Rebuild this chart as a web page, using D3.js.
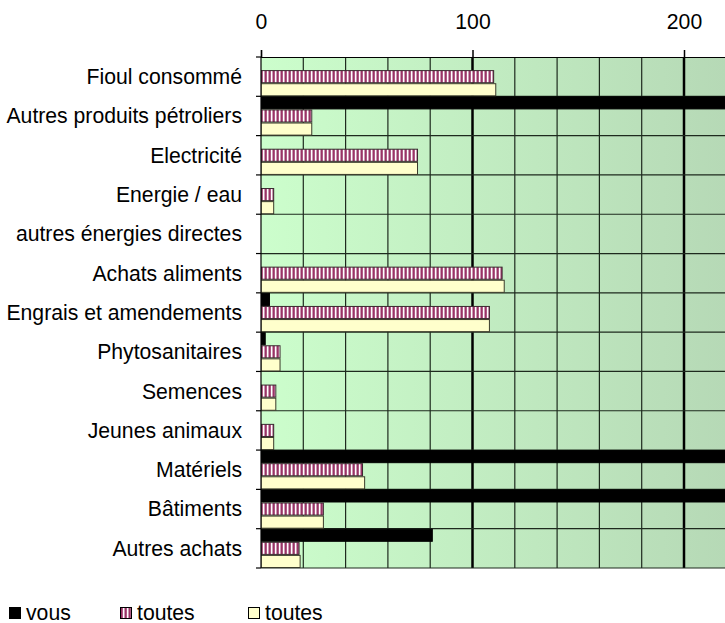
<!DOCTYPE html>
<html>
<head>
<meta charset="utf-8">
<script src="https://cdn.jsdelivr.net/npm/d3@7"></script>
<style>
  body { margin: 0; background: #fff; }
  svg text { font-family: Arial, "Liberation Sans", sans-serif; fill: #000; }
</style>
</head>
<body>
<svg id="chart" width="725" height="623"></svg>
<script>
// categories, top to bottom
const categories = [
    "Fioul consommé",
    "Autres produits pétroliers",
    "Electricité",
    "Energie / eau",
    "autres énergies directes",
    "Achats aliments",
    "Engrais et amendements",
    "Phytosanitaires",
    "Semences",
    "Jeunes animaux",
    "Matériels",
    "Bâtiments",
    "Autres achats"
];

// series values (vous goes beyond the visible range for some rows)
const vous = [0, 260, 0, 0, 0, 0, 4, 2, 0, 0, 260, 260, 81];
const toutesA = [110, 24, 74, 6, 0, 114, 108, 9, 7, 6, 48, 29.5, 18];
const toutesB = [111, 24, 74, 6, 0, 115, 108, 9, 7, 6, 49, 29.5, 18.5];

const seriesNames = ["vous", "toutes", "toutes"];
const xTicks = [0, 100, 200];

const width = 725;
const height = 623;
const margin = { top: 57, left: 261, bottom: 568 };
const fontSize = "21.2px";

const svg = d3.select("#chart");

const x = d3.scaleLinear().
domain([0, 220]).
range([margin.left, margin.left + 2.115 * 220]);

const y = d3.scaleBand().
domain(categories).
range([margin.top, margin.bottom]).
padding(0);

const ySub = d3.scaleBand().
domain([0, 1, 2]).
range([0, y.bandwidth()]).
padding(0);

const defs = svg.append("defs");

const grad = defs.append("linearGradient").
attr("id", "bg").
attr("gradientUnits", "userSpaceOnUse").
attr("x1", margin.left).
attr("x2", width).
attr("y1", 0).
attr("y2", 0);
grad.append("stop").attr("offset", 0).attr("stop-color", "#ccfecc");
grad.append("stop").attr("offset", 1).attr("stop-color", "#b6d9b6");

const hatch = defs.append("pattern").
attr("id", "hatch").
attr("patternUnits", "userSpaceOnUse").
attr("width", 4).
attr("height", 4);
hatch.append("rect").attr("width", 4).attr("height", 4).attr("fill", "#fff");
hatch.append("rect").attr("x", 0.5).attr("width", 2.3).attr("height", 4).attr("fill", "#993366");

defs.append("clipPath").
attr("id", "plotclip").
append("rect").
attr("x", margin.left).
attr("y", margin.top - 1).
attr("width", width - margin.left).
attr("height", margin.bottom - margin.top + 2);

// plot background
svg.append("rect").
attr("x", margin.left).
attr("y", margin.top).
attr("width", width - margin.left).
attr("height", margin.bottom - margin.top).
attr("fill", "url(#bg)");

const plot = svg.append("g").attr("clip-path", "url(#plotclip)");

// vertical grid
const gridVals = d3.range(20, 221, 20);
plot.append("g").
selectAll("line").
data(gridVals).
join("line").
attr("x1", d => x(d)).
attr("x2", d => x(d)).
attr("y1", margin.top).
attr("y2", margin.bottom).
attr("stroke", d => d % 100 === 0 ? "#000" : "#1e2a1e").
attr("stroke-width", d => d % 100 === 0 ? 2.5 : 1.2);

// horizontal grid at row boundaries
plot.append("g").
selectAll("line").
data(categories).
join("line").
attr("x1", margin.left).
attr("x2", width).
attr("y1", d => y(d) + y.bandwidth()).
attr("y2", d => y(d) + y.bandwidth()).
attr("stroke", "#1e2a1e").
attr("stroke-width", 1.2);

// bars
const series = [
    { values: vous, fill: "#000", stroke: "#000" },
    { values: toutesA, fill: "url(#hatch)", stroke: "#3a2a30" },
    { values: toutesB, fill: "#ffffcc", stroke: "#3a3a2a" }
];

series.forEach((s, si) => {
    plot.append("g").
    selectAll("rect").
    data(categories.map((c, i) => ({ cat: c, v: s.values[i] })).filter(d => d.v > 0)).
    join("rect").
    attr("x", x(0)).
    attr("y", d => y(d.cat) + ySub(si) + 0.5).
    attr("width", d => x(d.v) - x(0)).
    attr("height", ySub.bandwidth() - 1).
    attr("fill", s.fill).
    attr("stroke", s.stroke).
    attr("stroke-width", 1);
});

// top axis
const xAxis = svg.append("g").
attr("transform", `translate(0,${margin.top})`).
call(d3.axisTop(x).tickValues(xTicks).tickSize(7).tickPadding(0));
xAxis.select(".domain").attr("stroke", "#000").attr("stroke-width", 1.2);
xAxis.selectAll(".tick line").attr("stroke", "#000").attr("stroke-width", 1.5);
xAxis.selectAll("text").
attr("y", 29 - margin.top).
attr("dy", null).
style("font-size", fontSize).
style("font-family", "Arial, 'Liberation Sans', sans-serif").
attr("fill", "#000");

// left axis
svg.append("line").
attr("x1", margin.left).
attr("x2", margin.left).
attr("y1", margin.top).
attr("y2", margin.bottom).
attr("stroke", "#000").
attr("stroke-width", 1.2);

svg.append("g").
selectAll("line").
data([margin.top].concat(categories.map(c => y(c) + y.bandwidth()))).
join("line").
attr("x1", margin.left - 5).
attr("x2", margin.left).
attr("y1", d => d).
attr("y2", d => d).
attr("stroke", "#000").
attr("stroke-width", 1.2);

svg.append("g").
selectAll("text").
data(categories).
join("text").
attr("x", 242).
attr("y", d => y(d) + y.bandwidth() / 2).
attr("dy", "0.35em").
attr("text-anchor", "end").
style("font-size", fontSize).
text(d => d);

// legend
const legendItems = [
    { name: seriesNames[0], fill: "#000", x: 9 },
    { name: seriesNames[1], fill: "url(#hatch)", x: 120 },
    { name: seriesNames[2], fill: "#ffffcc", x: 248 }
];

const legend = svg.append("g");
legend.selectAll("rect").
data(legendItems).
join("rect").
attr("x", d => d.x + 0.5).
attr("y", 607.5).
attr("width", 11).
attr("height", 11).
attr("fill", d => d.fill).
attr("stroke", "#000").
attr("stroke-width", 1);

legend.selectAll("text").
data(legendItems).
join("text").
attr("x", d => d.x + 17).
attr("y", 620).
style("font-size", fontSize).
text(d => d.name);
</script>
</body>
</html>
